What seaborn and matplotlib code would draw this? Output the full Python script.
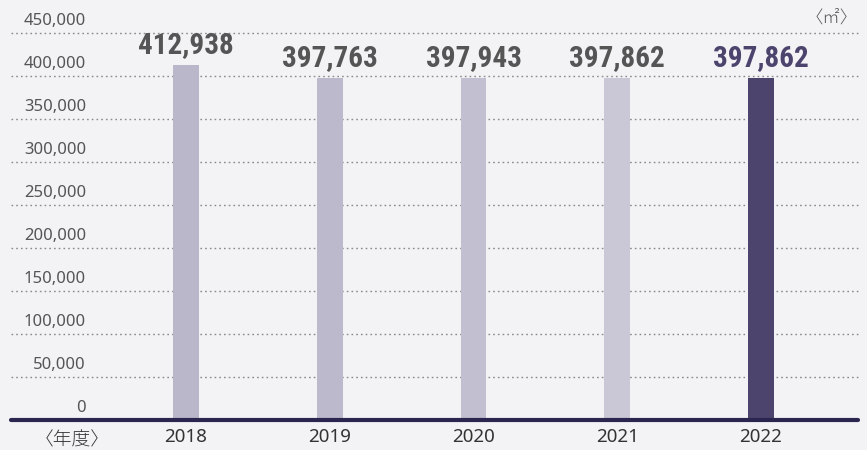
import matplotlib
matplotlib.use("Agg")
import matplotlib.pyplot as plt
import seaborn as sns
import pandas as pd

years = ["2018", "2019", "2020", "2021", "2022"]
values = [412938, 397763, 397943, 397862, 397862]
bar_colors = ["#bbb7cb", "#bdb9cd", "#c2bfd1", "#cac7d7", "#4d446e"]
label_colors = ["#555555", "#555555", "#555555", "#555555", "#4d446e"]
y_ticks = [0, 50000, 100000, 150000, 200000, 250000, 300000, 350000, 400000, 450000]
unit_label = "〈㎡〉"
x_axis_label = "〈年度〉"

sns.set_theme(style="white")
plt.rcParams["font.family"] = ["Noto Sans CJK JP", "DejaVu Sans"]

bg = "#f3f3f6"
fig = plt.figure(figsize=(8.67, 4.5), dpi=100, facecolor=bg)
ax = fig.add_axes([11 / 867, 30 / 450, 847 / 867, 387 / 450])
ax.set_facecolor(bg)

df = pd.DataFrame({"year": years, "value": values})
sns.barplot(data=df, x="year", y="value", hue="year", palette=bar_colors,
            width=0.18, legend=False, ax=ax, saturation=1, linewidth=0)

ax.set_xlim(-1.218, 4.676)
ax.set_ylim(0, 450000)

for s in ax.spines.values():
    s.set_visible(False)

# gridlines
for t in y_ticks[1:]:
    ax.axhline(t, color="#8a8a8a", linestyle=(0, (1.2, 2.2)), linewidth=1.0, zorder=0, clip_on=False)
ax.axhline(0, color="#2b2650", linewidth=3, zorder=3, clip_on=False)

tick_font = ["Noto Sans", "DejaVu Sans"]
ax.set_yticks([])
ax.set_xticks(range(len(years)))
ax.set_xticklabels(years, fontsize=13.5, color="#333333", family=tick_font)
ax.tick_params(axis="x", length=0, pad=6)
ax.set_xlabel("")
ax.set_ylabel("")

# y tick labels above gridlines
for t in y_ticks:
    ax.annotate(f"{t:,}", xy=(75 / 847, t), xycoords=("axes fraction", "data"),
                xytext=(0, 3), textcoords="offset points", ha="right", va="bottom",
                fontsize=12, color="#555555", family=tick_font)

# value labels
for i, (v, c) in enumerate(zip(values, label_colors)):
    ax.annotate(f"{v:,}", xy=(i, v), xytext=(0, 4), textcoords="offset points",
                ha="center", va="bottom", fontsize=21, fontweight="bold", color=c,
                family=["Roboto Condensed", "Roboto", "DejaVu Sans"], fontstretch="condensed")

fig.text(858 / 867, 1 - 18 / 450, unit_label, ha="right", va="center", fontsize=12.5,
         color="#555555", fontweight="light")
fig.text(72 / 867, 1 - 440 / 450, x_axis_label, ha="center", va="center", fontsize=13.5,
         color="#333333", fontweight="light")

fig.savefig("out.png", dpi=100, facecolor=bg)
